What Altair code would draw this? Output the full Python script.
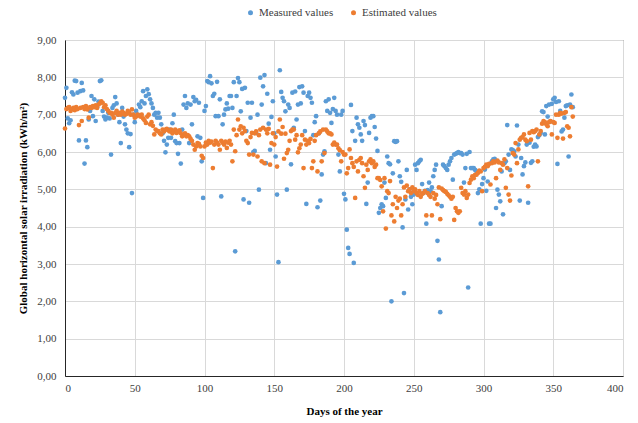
import altair as alt
import pandas as pd

days = list(range(365))

measured = [
    7.45, 7.72, 6.9, 6.77, 6.85, 7.6, 7.54, 7.91, 7.9, 7.59,
    6.31, 7.63, 7.85, 7.65, 5.69, 6.31, 6.13, 6.87, 7.1, 7.5,
    6.96, 7.41, 6.83, 7.2, 7.35, 7.9, 7.92, 7.1, 6.95, 6.87,
    6.92, 7.05, 6.9, 5.93, 7.18, 7.25, 7.47, 7.3, 7.0, 6.8,
    6.24, 7.18, 6.95, 6.74, 6.6, 6.5, 6.13, 6.48, 4.9, 7.0,
    6.8, 7.1, 7.0, 7.27, 7.2, 7.36, 7.63, 7.3, 7.5, 7.68,
    7.55, 7.41, 7.3, 7.18, 7.0, 7.05, 6.92, 7.05, 6.92, 6.74,
    6.5, 6.3, 5.99, 6.2, 6.38, 6.6, 6.38, 6.77, 7.0, 6.29,
    6.24, 5.95, 6.24, 5.69, 6.6, 7.27, 7.5, 7.18, 7.3, 6.24,
    7.27, 6.74, 7.47, 7.36, 7.4, 6.42, 7.32, 6.38, 5.75, 4.77,
    7.1, 7.23, 7.9, 7.87, 8.03, 7.84, 7.5, 7.56, 6.96, 7.88,
    6.96, 7.41, 4.81, 6.74, 7.0, 7.14, 7.3, 7.16, 7.5, 7.5,
    7.18, 7.87, 3.34, 7.5, 7.98, 7.87, 7.09, 7.69, 4.73, 7.72,
    6.56, 7.32, 4.64, 6.92, 7.32, 6.0, 6.03, 6.51, 7.0, 4.99,
    7.99, 7.27, 7.76, 8.06, 5.7, 7.56, 6.76, 6.06, 6.94, 7.36,
    6.5, 5.88, 4.86, 3.05, 8.19, 7.61, 7.45, 7.36, 7.09, 4.99,
    7.27, 7.18, 5.67, 7.59, 6.65, 7.62, 6.87, 7.27, 7.74, 7.3,
    7.76, 7.59, 6.56, 4.61, 7.5, 7.59, 7.45, 7.32, 6.45, 6.8,
    6.96, 4.52, 6.5, 4.7, 5.4, 5.93, 6.02, 7.36, 7.1, 7.41,
    7.05, 6.78, 7.15, 7.45, 7.1, 7.0, 5.93, 5.48, 7.0, 7.1,
    4.88, 4.73, 3.92, 3.43, 3.27, 7.26, 6.56, 3.03, 6.3, 6.92,
    6.74, 6.65, 6.47, 6.3, 6.83, 6.72, 4.61, 5.18, 6.51, 6.92,
    6.96, 6.96, 6.67, 6.36, 6.03, 4.37, 4.5, 4.6, 4.55, 5.18,
    4.77, 5.88, 5.7, 5.67, 2.0, 5.43, 6.29, 6.27, 6.29, 5.75,
    5.35, 5.2, 3.98, 2.22, 4.73, 5.52, 4.46, 5.0, 4.8, 4.6,
    4.86, 5.66, 5.52, 5.7, 5.75, 5.79, 5.14, 4.9, 4.96, 4.08,
    4.98, 5.18, 4.96, 5.05, 5.35, 5.52, 5.66, 3.62, 3.12, 1.71,
    4.55, 5.66, 5.62, 5.57, 5.52, 5.66, 5.75, 5.84, 5.26, 5.93,
    5.95, 5.97, 6.0, 5.97, 5.97, 5.93, 5.18, 5.57, 5.95, 2.37,
    6.0, 5.57, 5.57, 5.57, 5.52, 5.48, 4.9, 5.0, 4.08, 5.14,
    5.3, 5.53, 4.96, 5.21, 4.08, 4.08, 5.75, 5.8, 5.82, 4.5,
    4.99, 4.86, 4.68, 5.48, 4.33, 5.7, 5.75, 6.72, 5.93, 5.52,
    6.07, 6.05, 6.02, 5.88, 6.71, 6.2, 4.7, 5.84, 5.4, 5.62,
    5.72, 6.2, 4.64, 6.25, 5.71, 5.75, 6.14, 6.2, 6.15, 6.4,
    6.45, 6.51, 7.09, 7.07, 6.47, 7.23, 6.95, 7.27, 6.82, 7.29,
    7.41, 7.45, 7.34, 5.68, 7.36, 7.1, 6.55, 6.6, 6.92, 7.23,
    7.25, 5.88, 7.27, 7.54, 7.2,
]

estimated = [
    6.63, 7.15, 7.18, 7.2, 7.1, 7.15, 7.18, 7.12, 7.2, 7.15,
    6.72, 7.18, 6.83, 7.2, 7.15, 7.23, 7.14, 6.92, 7.2, 7.18,
    7.23, 7.2, 7.25, 7.18, 7.27, 7.3, 7.36, 7.32, 7.2, 7.25,
    7.15, 7.1, 7.05, 7.05, 7.0, 6.92, 7.05, 7.1, 7.0, 7.05,
    7.0, 7.08, 7.05, 7.0, 7.02, 7.1, 7.05, 7.0, 7.14, 7.0,
    6.92, 6.95, 7.0, 6.98, 6.95, 7.0, 6.9, 6.85, 6.78, 6.95,
    7.0, 6.74, 6.8, 6.7, 6.47, 6.6, 6.56, 6.56, 6.5, 6.47,
    6.6, 6.55, 6.6, 6.62, 6.58, 6.55, 6.6, 6.5, 6.55, 6.6,
    6.51, 6.55, 6.58, 6.5, 6.42, 6.45, 6.5, 6.42, 6.45, 6.42,
    6.35, 6.3, 6.2, 6.06, 6.15, 6.24, 6.22, 6.15, 5.9, 5.84,
    6.15, 6.25, 6.2, 6.3, 6.25, 6.28, 5.57, 6.2, 6.3, 6.25,
    6.2, 6.06, 6.3, 6.25, 6.2, 6.28, 6.11, 6.25, 6.3, 6.2,
    5.75, 6.6, 6.02, 6.45, 6.87, 6.6, 6.69, 6.5, 6.65, 6.56,
    6.3, 6.24, 5.93, 6.4, 6.51, 5.93, 6.5, 6.55, 5.88, 6.45,
    6.6, 5.75, 6.65, 5.7, 6.6, 6.5, 6.62, 5.66, 6.24, 6.5,
    6.2, 6.4, 5.61, 6.55, 6.87, 6.49, 6.67, 5.82, 6.49, 5.97,
    6.06, 6.3, 6.56, 6.6, 6.6, 6.33, 6.45, 5.99, 6.1, 6.2,
    6.45, 5.57, 6.33, 6.2, 6.3, 6.24, 6.35, 5.57, 5.75, 6.3,
    6.45, 5.48, 6.5, 6.55, 5.75, 6.6, 5.97, 6.6, 6.55, 6.5,
    6.5, 6.47, 6.2, 6.25, 6.2, 6.2, 6.1, 6.05, 5.75, 6.0,
    5.93, 5.93, 5.43, 5.57, 6.07, 5.84, 5.7, 5.6, 4.77, 5.75,
    5.48, 5.79, 5.84, 5.7, 5.35, 5.04, 5.66, 5.52, 5.75, 5.8,
    5.7, 5.75, 5.6, 5.66, 5.3, 5.3, 5.25, 5.08, 4.41, 5.3,
    3.95, 4.95, 4.9, 5.22, 4.3, 4.6, 4.14, 4.8, 4.5, 4.7,
    4.75, 4.3, 4.6, 5.05, 4.8, 5.1, 4.95, 5.0, 4.9, 5.05,
    4.95, 5.0, 4.9, 4.85, 4.95, 4.8, 4.88, 4.9, 4.95, 4.3,
    4.9, 4.85, 4.8, 4.3, 4.9, 4.75, 4.85, 4.6, 5.05, 4.2,
    5.02, 4.98, 4.95, 4.93, 4.88, 4.84, 4.8, 4.75, 4.8, 4.18,
    4.5, 4.41, 4.37, 4.41, 5.04, 4.9, 4.86, 4.95, 4.77, 4.86,
    5.17, 5.26, 5.35, 5.3, 5.39, 5.39, 5.44, 5.5, 5.48, 4.95,
    5.57, 5.6, 5.66, 5.62, 5.68, 5.13, 5.7, 5.75, 5.72, 5.3,
    5.77, 5.72, 5.52, 5.7, 5.66, 5.8, 5.04, 5.57, 4.86, 4.7,
    5.37, 5.97, 5.93, 6.24, 5.7, 6.07, 6.33, 6.38, 6.4, 6.47,
    6.33, 6.29, 5.08, 6.51, 6.33, 6.56, 6.53, 6.56, 6.6, 5.75,
    6.47, 6.56, 6.76, 6.83, 6.8, 6.74, 6.69, 6.8, 6.83, 6.47,
    6.8, 6.78, 7.0, 6.38, 7.0, 7.05, 7.03, 6.36, 7.05, 7.07,
    6.69, 6.65, 6.42, 7.2, 6.95,
]

series_names = ["Measured values", "Estimated values"]
series_colors = ["#5B9BD5", "#ED7D31"]
x_ticks = [0, 50, 100, 150, 200, 250, 300, 350, 400]
y_ticks = [0, 1, 2, 3, 4, 5, 6, 7, 8, 9]

rows = []
for i, d in enumerate(days):
    rows.append({"day": d, "value": measured[i], "series": series_names[0], "ord": 0})
for i, d in enumerate(days):
    rows.append({"day": d, "value": estimated[i], "series": series_names[1], "ord": 1})
df = pd.DataFrame(rows)

FONT = "Times New Roman, Liberation Serif, serif"

chart = alt.Chart(df).mark_circle(size=22, opacity=1).encode(
    x=alt.X(
        "day:Q",
        scale=alt.Scale(domain=[0, 400], nice=False, zero=True),
        axis=alt.Axis(
            values=x_ticks,
            title="Days of the year",
            format="d",
            labelFont=FONT,
            titleFont=FONT,
            labelPadding=6,
            titlePadding=12,
        ),
    ),
    y=alt.Y(
        "value:Q",
        scale=alt.Scale(domain=[0, 9], nice=False),
        axis=alt.Axis(
            values=y_ticks,
            title="Global horizontal solar irradiation (kWh/m²)",
            labelExpr="replace(format(datum.value, '.2f'), '.', ',')",
            labelFont=FONT,
            titleFont=FONT,
            labelPadding=9,
            titlePadding=8,
        ),
    ),
    color=alt.Color(
        "series:N",
        scale=alt.Scale(domain=series_names, range=series_colors),
        legend=alt.Legend(
            title=None,
            orient="none",
            legendX=180,
            legendY=-33,
            direction="horizontal",
            symbolType="circle",
            symbolSize=25,
            labelFont=FONT,
            labelFontSize=11,
            labelColor="#404040",
            columnPadding=14,
            labelOffset=3,
        ),
    ),
    order=alt.Order("ord:Q"),
).properties(
    width=558,
    height=336,
    padding={"left": 65, "top": 40, "right": 15, "bottom": 47},
    autosize=alt.AutoSizeParams(type="none"),
    background="white",
).configure(
    font=FONT,
).configure_view(
    stroke="#595959",
    strokeWidth=1,
).configure_axis(
    labelFont=FONT,
    labelFontSize=11,
    labelColor="#404040",
    titleFont=FONT,
    titleFontSize=11,
    titleFontWeight="bold",
    titleColor="#000000",
    gridColor="#D9D9D9",
    gridWidth=1,
    ticks=False,
    domainColor="#262626",
    domainWidth=1,
).configure_legend(
    labelFont=FONT,
)

chart.save("out.html", embed_options={"renderer": "svg", "actions": False})
